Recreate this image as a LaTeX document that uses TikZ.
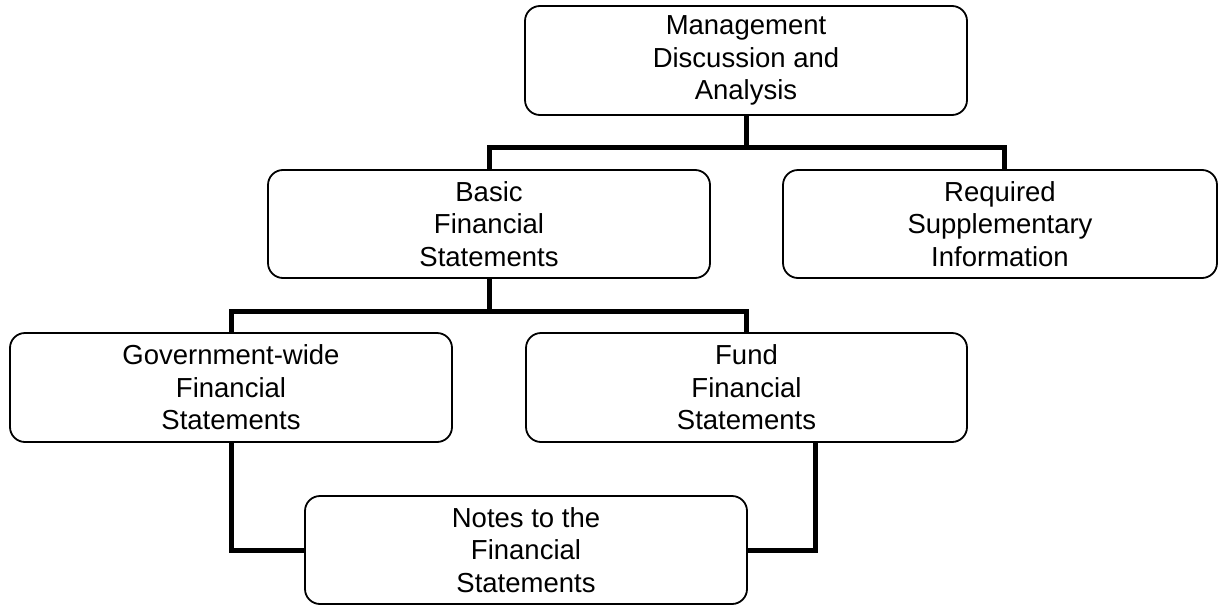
\documentclass[tikz,border=0pt]{standalone}
\usepackage{fontspec}
\setmainfont{Liberation Sans}
\begin{document}
\begin{tikzpicture}[x=1pt,y=-1pt,
  box/.style={draw=black, line width=1.8pt, rounded corners=15pt, fill=white,
    align=center, inner sep=0pt, font=\fontsize{27.5}{32.5}\selectfont},
  conn/.style={draw=black, line width=5pt}]
\useasboundingbox (0,0) rectangle (1220,605);
\node[box, minimum width=442pt, minimum height=109pt] (mgmt) at (746,60.5) {Management\\Discussion and\\Analysis};
\node[box, minimum width=442pt, minimum height=108pt] (basic) at (489,224) {Basic\\Financial\\Statements};
\node[box, minimum width=434pt, minimum height=108pt] (rsi) at (1000,224) {Required\\Supplementary\\Information};
\node[box, minimum width=442pt, minimum height=109pt] (gov) at (231,387.5) {Government-wide\\Financial\\Statements};
\node[box, minimum width=441pt, minimum height=109pt] (fund) at (746.5,387.5) {Fund\\Financial\\Statements};
\node[box, minimum width=442pt, minimum height=108pt] (notes) at (526,550) {Notes to the\\Financial\\Statements};
\begin{scope}[on background layer/.try]
\end{scope}
\draw[conn] (mgmt.south) -- ++(0,32) -| (basic.north);
\draw[conn] (mgmt.south) -- ++(0,32) -| ([xshift=4pt]rsi.north);
\draw[conn] (basic.south) -- ++(0,33) -| (gov.north);
\draw[conn] (basic.south) -- ++(0,33) -| (fund.north);
\draw[conn] (gov.south) |- (notes.west);
\draw[conn] ([xshift=68.5pt]fund.south) |- (notes.east);
\end{tikzpicture}
\end{document}
